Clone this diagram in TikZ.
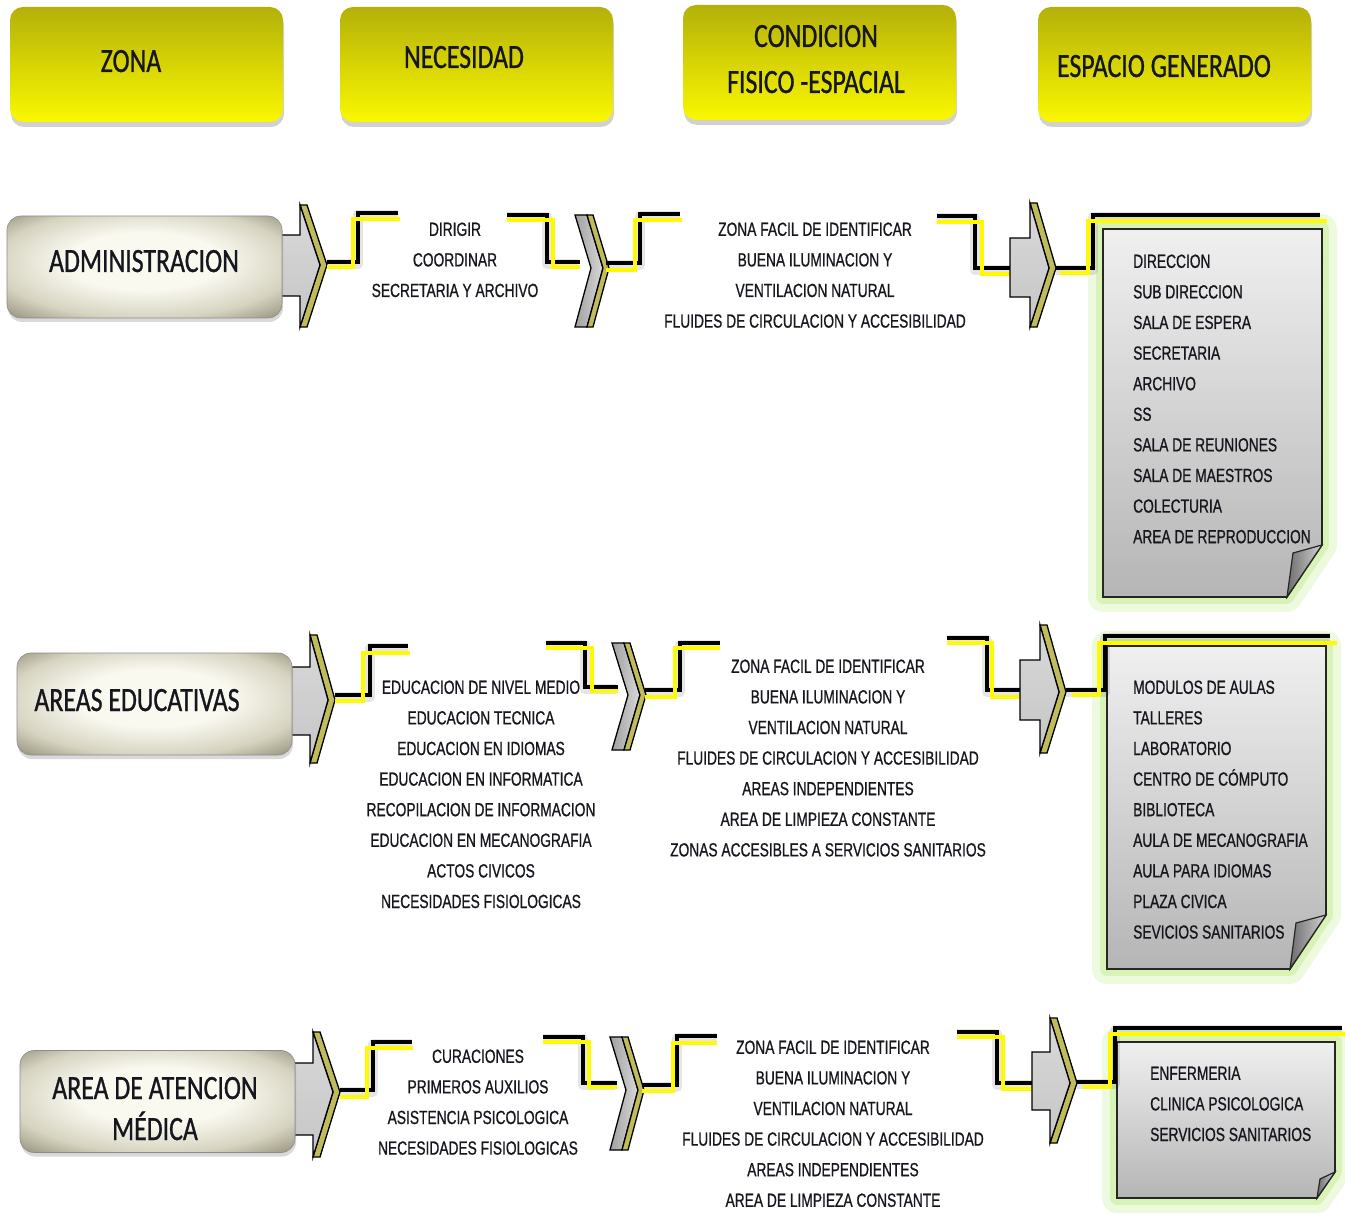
\documentclass[tikz,border=0pt]{standalone}
\usepackage{fontspec}
\setmainfont{Liberation Sans}[FakeStretch=0.725,FakeBold=0.8]
\newfontfamily\zfont{Carlito}[FakeStretch=0.76,FakeBold=0.8]
\usetikzlibrary{shadows}
\definecolor{txt}{RGB}{22,22,30}
\definecolor{hdtop}{RGB}{180,176,10}
\definecolor{hdbot}{RGB}{250,248,0}
\definecolor{zin}{RGB}{250,249,240}
\definecolor{zmid}{RGB}{214,211,192}
\definecolor{zout}{RGB}{150,146,124}
\definecolor{olv}{RGB}{192,188,92}
\definecolor{glowc}{RGB}{200,238,150}
\definecolor{ylw}{RGB}{255,250,0}
\pgfdeclareradialshading{zshade}{\pgfpoint{0bp}{4bp}}{color(0bp)=(zin); color(14bp)=(zin); color(27bp)=(zmid); color(36bp)=(zout); color(50bp)=(zout)}
\tikzset{
  hdbox/.style={draw=none, rounded corners=13pt, top color=hdtop, bottom color=hdbot,
    minimum width=273pt, minimum height=115pt, inner sep=0pt,
    drop shadow={shadow xshift=1pt, shadow yshift=-5pt, opacity=.3, fill=black!60}},
  hdtxt/.style={font=\zfont\fontsize{34}{40}\selectfont, text=txt, inner sep=0pt, anchor=base},
  zbox/.style={draw=black!45, line width=0.6pt, rounded corners=14pt, shading=zshade,
    minimum width=275pt, minimum height=102pt, inner sep=0pt,
    drop shadow={shadow xshift=1pt, shadow yshift=-4pt, opacity=.25, fill=black!60}},
  lst/.style={font=\fontsize{19}{22}\selectfont, text=txt, inner sep=0pt},
  blkl/.style={draw=black, line width=3.2pt, line join=miter},
  ylwl/.style={draw=ylw, line width=3.2pt, line join=miter},
  shdl/.style={draw=black, opacity=.10, line width=10pt, line join=round},
}
% #1 tail, #2 head x, #3 shaft top, #4 shaft bottom, #5 head top, #6 head bottom, #7 mid y, #8 inner tip, #9 outer tip
\newcommand\blkarrow[9]{%
  \filldraw[fill=olv, draw=black, line width=1.3pt, line join=miter]
    (#2,#5) -- ({#2+7},#5) -- (#9,#7) -- ({#2+7},#6) -- (#2,#6) -- (#8,#7) -- cycle;
  \shade[top color=gray!30, middle color=white, bottom color=gray!45, draw=black, line width=1.3pt, line join=miter]
    (#1,#3) -- (#2,#3) -- (#2,#5) -- (#8,#7) -- (#2,#6) -- (#2,#4) -- (#1,#4) -- cycle;
}
\newcommand\graychev[4]{%
  \shade[left color=gray!75, right color=gray!30, draw=black, line width=1.3pt, line join=miter]
    (#1,#2) -- ({#1+12},#2) -- ({#1+28},#4) -- ({#1+12},#3) -- (#1,#3) -- ({#1+16},#4) -- cycle;
  \filldraw[fill=olv, draw=black, line width=1.3pt, line join=miter]
    ({#1+12},#2) -- ({#1+18},#2) -- ({#1+34},#4) -- ({#1+18},#3) -- ({#1+12},#3) -- ({#1+28},#4) -- cycle;
}
% #1 xl, #2 yt, #3 xr, #4 yb, #5 yc, #6 xc, #7 fx, #8 fy
\newcommand\notebox[8]{%
  \draw[glowc, opacity=.3, line width=30pt, line join=round]
    (#1,#2) -- (#3,#2) -- (#3,#5) -- (#6,#4) -- (#1,#4) -- cycle;
  \draw[glowc, opacity=.55, line width=14pt, line join=round]
    (#1,#2) -- (#3,#2) -- (#3,#5) -- (#6,#4) -- (#1,#4) -- cycle;
  \shade[top color=gray!12, bottom color=gray!58, draw=black!85, line width=1.6pt]
    (#1,#2) -- (#3,#2) -- (#3,#5) -- (#6,#4) -- (#1,#4) -- cycle;
  \shade[left color=gray!85!black, right color=gray!35, draw=black!85, line width=1.2pt]
    (#3,#5) -- (#6,#4) -- (#7,#8) -- cycle;
}
% #1 name prefix, #2 x, #3 cap-centre y of first line, #4 anchor, #5 items
\newcommand\itemsC[5]{%
  \foreach \t [count=\i from 0] in {#5}
    \node[lst, anchor=#4] (#1\i) at (#2, {#3+6.8+30.6*\i}) {\t};
}
\begin{document}
\begin{tikzpicture}[x=1pt,y=-1pt]
\useasboundingbox (0,0) rectangle (1345,1214);

% ---------- headers ----------
\node[hdbox] (hZ) at (146.5,64.5) {};
\node[hdbox] (hN) at (476.5,64.5) {};
\node[hdbox] (hC) at (819.5,62.5) {};
\node[hdbox] (hE) at (1174.5,64.5) {};
\node[hdtxt] (tZ) at (131,72) {ZONA};
\node[hdtxt] (tN) at (464,68) {NECESIDAD};
\node[hdtxt] (tC1) at (816,47) {CONDICION};
\node[hdtxt] (tC2) at (816,93) {FISICO -ESPACIAL};
\node[hdtxt] (tE) at (1164,77) {ESPACIO GENERADO};

% ---------- row 1 : ADMINISTRACION ----------
\blkarrow{276}{300}{235}{296}{205}{327}{265}{320}{327}
\node[zbox] (z1) at (144.5,267) {};
\node[hdtxt] (z1t) at (144,272) {ADMINISTRACION};
\draw[shdl] (327,264) -- (358,264) -- (358,215) -- (398,215);
\draw[blkl] (327,262) -- (358,262) -- (358,213) -- (398,213);
\draw[ylwl] (327,267) -- (353,267) -- (353,219) -- (400,219);
\draw[shdl] (507,217) -- (547,217) -- (547,264) -- (578,264);
\draw[blkl] (507,215) -- (547,215) -- (547,262) -- (580,262);
\draw[ylwl] (507,220) -- (553,220) -- (553,267) -- (580,267);
\graychev{575}{215}{327}{268}
\draw[shdl] (606,265) -- (640,265) -- (640,216) -- (680,216);
\draw[blkl] (606,263) -- (640,263) -- (640,214) -- (680,214);
\draw[ylwl] (606,270) -- (635,270) -- (635,220) -- (682,220);
\draw[shdl] (937,218) -- (975,218) -- (975,270) -- (1010,270);
\draw[blkl] (937,216) -- (975,216) -- (975,268) -- (1010,268);
\draw[ylwl] (937,222) -- (982,222) -- (982,274) -- (1010,274);
\blkarrow{1010}{1030}{238}{297}{203}{327}{268}{1049}{1056}
\notebox{1103}{229}{1322}{597}{545}{1287}{1293}{553}
\draw[shdl] (1056,270) -- (1093,270) -- (1093,217) -- (1320,217);
\draw[blkl] (1056,268) -- (1093,268) -- (1093,215) -- (1320,215);
\draw[ylwl] (1060,273) -- (1088,273) -- (1088,221) -- (1327,221);
\itemsC{ra}{455}{229}{base}{DIRIGIR,COORDINAR,SECRETARIA Y ARCHIVO}
\itemsC{rb}{815}{229}{base}{ZONA FACIL DE IDENTIFICAR,BUENA ILUMINACION Y,VENTILACION NATURAL,FLUIDES DE CIRCULACION Y ACCESIBILIDAD}
\itemsC{rc}{1133}{261}{base west}{DIRECCION,SUB DIRECCION,SALA DE ESPERA,SECRETARIA,ARCHIVO,SS,SALA DE REUNIONES,SALA DE MAESTROS,COLECTURIA,AREA DE REPRODUCCION}

% ---------- row 2 : AREAS EDUCATIVAS ----------
\blkarrow{286}{310}{667}{735}{635}{763}{700}{328}{335}
\node[zbox] (z2) at (154.5,704) {};
\node[hdtxt] (z2t) at (137,711) {AREAS EDUCATIVAS};
\draw[shdl] (335,697) -- (370,697) -- (370,648) -- (408,648);
\draw[blkl] (335,695) -- (370,695) -- (370,646) -- (408,646);
\draw[ylwl] (335,701) -- (363,701) -- (363,653) -- (410,653);
\draw[shdl] (546,645) -- (585,645) -- (585,689) -- (616,689);
\draw[blkl] (546,643) -- (585,643) -- (585,687) -- (618,687);
\draw[ylwl] (546,648) -- (592,648) -- (592,691) -- (618,691);
\graychev{612}{643}{750}{695}
\draw[shdl] (645,692) -- (680,692) -- (680,645) -- (720,645);
\draw[blkl] (645,690) -- (680,690) -- (680,643) -- (720,643);
\draw[ylwl] (645,697) -- (675,697) -- (675,648) -- (720,648);
\draw[shdl] (947,640) -- (987,640) -- (987,692) -- (1020,692);
\draw[blkl] (947,638) -- (987,638) -- (987,690) -- (1020,690);
\draw[ylwl] (947,643) -- (992,643) -- (992,697) -- (1020,697);
\blkarrow{1020}{1040}{660}{720}{625}{753}{692}{1059}{1066}
\notebox{1107}{646}{1326}{969}{915}{1290}{1296}{923}
\draw[shdl] (1066,692) -- (1105,692) -- (1105,638) -- (1330,638);
\draw[blkl] (1066,690) -- (1105,690) -- (1105,636) -- (1330,636);
\draw[ylwl] (1072,695) -- (1099,695) -- (1099,643) -- (1337,643);
\itemsC{sa}{481}{687}{base}{EDUCACION DE NIVEL MEDIO,EDUCACION TECNICA,EDUCACION EN IDIOMAS,EDUCACION EN INFORMATICA,RECOPILACION DE INFORMACION,EDUCACION EN MECANOGRAFIA,ACTOS CIVICOS,NECESIDADES FISIOLOGICAS}
\itemsC{sb}{828}{666}{base}{ZONA FACIL DE IDENTIFICAR,BUENA ILUMINACION Y,VENTILACION NATURAL,FLUIDES DE CIRCULACION Y ACCESIBILIDAD,AREAS INDEPENDIENTES,AREA DE LIMPIEZA CONSTANTE,ZONAS ACCESIBLES A SERVICIOS SANITARIOS}
\itemsC{sc}{1133}{687}{base west}{MODULOS DE AULAS,TALLERES,LABORATORIO,CENTRO DE CÓMPUTO,BIBLIOTECA,AULA DE MECANOGRAFIA,AULA PARA IDIOMAS,PLAZA CIVICA,SEVICIOS SANITARIOS}

% ---------- row 3 : AREA DE ATENCION MEDICA ----------
\blkarrow{290}{313}{1063}{1135}{1032}{1157}{1092}{333}{340}
\node[zbox] (z3) at (157.5,1101.5) {};
\node[hdtxt] (z3t) at (155,1099) {AREA DE ATENCION};
\node[hdtxt] (z3u) at (155,1140) {MÉDICA};
\draw[shdl] (340,1092) -- (373,1092) -- (373,1044) -- (412,1044);
\draw[blkl] (340,1090) -- (373,1090) -- (373,1042) -- (412,1042);
\draw[ylwl] (340,1097) -- (367,1097) -- (367,1048) -- (413,1048);
\draw[shdl] (543,1039) -- (583,1039) -- (583,1085) -- (615,1085);
\draw[blkl] (543,1037) -- (583,1037) -- (583,1083) -- (617,1083);
\draw[ylwl] (543,1042) -- (589,1042) -- (589,1087) -- (617,1087);
\graychev{610}{1037}{1150}{1090}
\draw[shdl] (642,1087) -- (677,1087) -- (677,1038) -- (717,1038);
\draw[blkl] (642,1085) -- (677,1085) -- (677,1036) -- (717,1036);
\draw[ylwl] (642,1091) -- (673,1091) -- (673,1043) -- (717,1043);
\draw[shdl] (957,1034) -- (997,1034) -- (997,1085) -- (1032,1085);
\draw[blkl] (957,1032) -- (997,1032) -- (997,1083) -- (1032,1083);
\draw[ylwl] (957,1037) -- (1003,1037) -- (1003,1089) -- (1032,1089);
\blkarrow{1032}{1050}{1052}{1110}{1018}{1143}{1083}{1070}{1077}
\notebox{1117}{1042}{1335}{1198}{1172}{1317}{1320}{1179}
\draw[shdl] (1077,1084) -- (1115,1084) -- (1115,1030) -- (1342,1030);
\draw[blkl] (1077,1082) -- (1115,1082) -- (1115,1028) -- (1342,1028);
\draw[ylwl] (1083,1087) -- (1110,1087) -- (1110,1034) -- (1345,1034);
\itemsC{ta}{478}{1056}{base}{CURACIONES,PRIMEROS AUXILIOS,ASISTENCIA PSICOLOGICA,NECESIDADES FISIOLOGICAS}
\itemsC{tb}{833}{1047}{base}{ZONA FACIL DE IDENTIFICAR,BUENA ILUMINACION Y,VENTILACION NATURAL,FLUIDES DE CIRCULACION Y ACCESIBILIDAD,AREAS INDEPENDIENTES,AREA DE LIMPIEZA CONSTANTE}
\itemsC{tc}{1150}{1073}{base west}{ENFERMERIA,CLINICA PSICOLOGICA,SERVICIOS SANITARIOS}
\end{tikzpicture}
\end{document}
